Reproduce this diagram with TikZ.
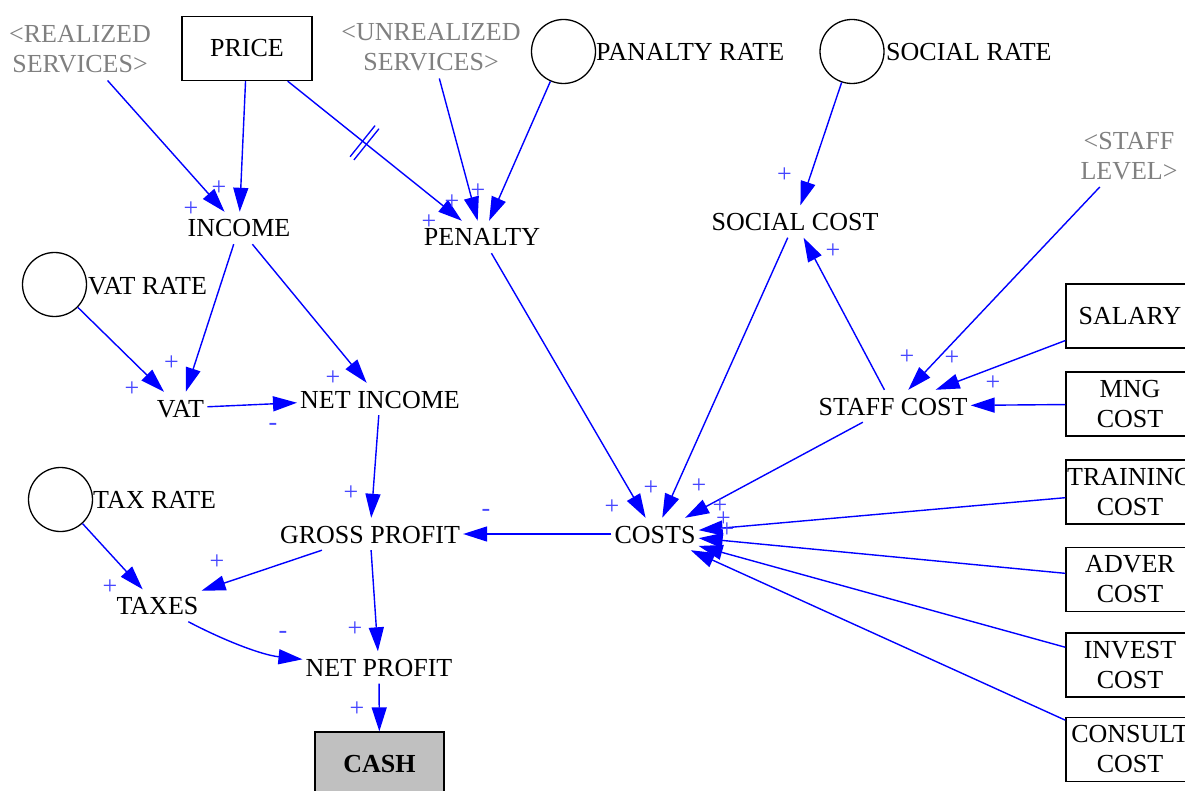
\documentclass[tikz,border=0pt]{standalone}
\usepackage{fontspec}
\setmainfont{Liberation Serif}
\usetikzlibrary{arrows.meta,calc}
\definecolor{linkblue}{RGB}{0,0,255}
\definecolor{polblue}{RGB}{70,70,255}
\definecolor{shadowgray}{RGB}{128,128,128}
\definecolor{cashgray}{RGB}{192,192,192}
\tikzset{
  lbl/.style={font=\fontsize{26}{30}\selectfont, text height=18pt, text depth=0pt, inner xsep=3pt, inner ysep=7pt},
  ghost/.style={font=\fontsize{26}{30}\selectfont, text=shadowgray, align=center, inner xsep=3pt, inner ysep=7pt},
  boxn/.style={draw, line width=1.3pt, minimum width=128pt, minimum height=64pt, inner sep=0pt, font=\fontsize{26}{30}\selectfont, align=center},
  cnst/.style={circle, draw, line width=1.3pt, minimum size=64pt, inner sep=0pt},
  cname/.style={font=\fontsize{26}{30}\selectfont, text height=18pt, text depth=0pt, inner sep=0pt, anchor=west},
  link/.style={draw=linkblue, line width=1.4pt, -{Triangle[length=24pt,width=15pt]}},
  markline/.style={draw=linkblue, line width=1.3pt},
  pol/.style={text=polblue, font=\fontsize{26}{30}\selectfont, inner sep=0pt},
}
\begin{document}
\begin{tikzpicture}[x=1pt,y=-1pt]
\useasboundingbox (0,0) rectangle (1185,791);
\clip (0,0) rectangle (1185,791);

% top row
\node[ghost] (realized) at (80,49.5) {<REALIZED\\SERVICES>};
\node[boxn, minimum width=130pt] (price) at (247,48.5) {PRICE};
\node[ghost] (unrealized) at (431,47.5) {<UNREALIZED\\SERVICES>};
\node[cnst] (panrate) at (563.5,51.5) {};
\node[cname] (panratetxt) at (596,52) {PANALTY RATE};
\node[cnst] (socrate) at (852,51.5) {};
\node[cname] (socratetxt) at (886,52) {SOCIAL RATE};
\node[ghost] (stafflevel) at (1129,156) {<STAFF\\LEVEL>};

% middle
\node[lbl] (income) at (239,228) {INCOME};
\node[lbl] (penalty) at (482,237) {PENALTY};
\node[lbl] (socialcost) at (795,221.5) {SOCIAL COST};
\node[cnst] (vatrate) at (54.5,284.5) {};
\node[cname] (vatratetxt) at (88,286) {VAT RATE};
\node[lbl] (vat) at (180.5,408) {VAT};
\node[lbl] (netincome) at (380,399) {NET INCOME};
\node[lbl] (staffcost) at (893,406) {STAFF COST};
\node[cnst] (taxrate) at (60.5,499.5) {};
\node[cname] (taxratetxt) at (93,499) {TAX RATE};
\node[lbl] (grossprofit) at (370,534) {GROSS PROFIT};
\node[lbl] (costs) at (655,534) {COSTS};
\node[lbl] (taxes) at (157.5,605.5) {TAXES};
\node[lbl] (netprofit) at (379,667.5) {NET PROFIT};
\node[boxn, minimum width=129pt, fill=cashgray, font=\fontsize{26}{30}\selectfont\bfseries] (cash) at (379.5,764) {CASH};

% right column boxes
\node[boxn] (salary) at (1130,316) {SALARY};
\node[boxn] (mng) at (1130,404) {MNG\\COST};
\node[boxn] (training) at (1130,492) {TRAINING\\COST};
\node[boxn] (adver) at (1130,579.5) {ADVER\\COST};
\node[boxn] (invest) at (1130,665) {INVEST\\COST};
\node[boxn] (consult) at (1130,749.5) {CONSULT\\COST};

% links
\draw[link] (realized) -- (income);
\draw[link] (price) -- (income);
\draw[link] (price) -- (penalty);
\draw[link] (unrealized) -- (penalty);
\draw[link] (panrate) -- (penalty);
\draw[link] (socrate) -- (socialcost);
\draw[link] (stafflevel) -- (staffcost);
\draw[link] (salary) -- (staffcost);
\draw[link] (mng) -- (staffcost);
\draw[link] (staffcost) -- (socialcost);
\draw[link] (staffcost) -- (costs);
\draw[link] (socialcost) -- (costs);
\draw[link] (penalty) -- (costs);
\draw[link] (training) -- (costs);
\draw[link] (adver) -- (costs);
\draw[link] (invest) -- (costs);
\draw[link] (consult) -- (costs);
\draw[link] (costs) -- (grossprofit);
\draw[link] (income) -- (vat);
\draw[link] (income) -- (netincome);
\draw[link] (vatrate) -- (vat);
\draw[link] (vat) -- (netincome);
\draw[link] (netincome) -- (grossprofit);
\draw[link] (taxrate) -- (taxes);
\draw[link] (grossprofit) -- (taxes);
\draw[link] (grossprofit) -- (netprofit);
\draw[link] (taxes) .. controls (225,641) and (262,655) .. (netprofit);
\draw[link] (netprofit) -- (cash);

% delay mark on PRICE -> PENALTY
\coordinate (dm) at ($(price)!0.5!(penalty)$);
\coordinate (da) at ($(dm)!2.5pt!(penalty)$);
\coordinate (db) at ($(dm)!2.5pt!(price)$);
\draw[markline] ($(da)!20pt!90:(penalty)$) -- ($(da)!20pt!-90:(penalty)$);
\draw[markline] ($(db)!20pt!90:(price)$) -- ($(db)!20pt!-90:(price)$);

% polarities
\node[pol] (p1) at (219,188) {+};
\node[pol] (p2) at (191,209) {+};
\node[pol] (p3) at (452,202) {+};
\node[pol] (p4) at (478,191) {+};
\node[pol] (p5) at (429,222) {+};
\node[pol] (p6) at (784.5,175) {+};
\node[pol] (p7) at (833,251) {+};
\node[pol] (p8) at (171.5,363) {+};
\node[pol] (p9) at (132,389) {+};
\node[pol] (p10) at (333,378) {+};
\node[pol] (m1) at (273,427) {-};
\node[pol] (p11) at (351,493) {+};
\node[pol] (m2) at (486,513) {-};
\node[pol] (p12) at (907,357) {+};
\node[pol] (p13) at (952,358) {+};
\node[pol] (p14) at (993,383) {+};
\node[pol] (p15) at (612,507) {+};
\node[pol] (p16) at (651,488) {+};
\node[pol] (p17) at (699,486) {+};
\node[pol] (p18) at (720,506) {+};
\node[pol] (p19) at (723.5,519) {+};
\node[pol] (p20) at (727,530) {+};
\node[pol] (p21) at (217,562) {+};
\node[pol] (p22) at (110,587) {+};
\node[pol] (m3) at (283,635) {-};
\node[pol] (p23) at (355,629) {+};
\node[pol] (p24) at (357,709) {+};
\end{tikzpicture}
\end{document}
